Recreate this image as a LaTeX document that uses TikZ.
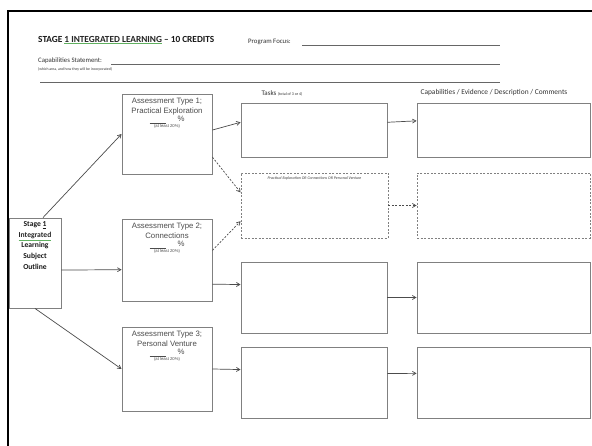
\documentclass[tikz,border=0pt]{standalone}
\usepackage{fontspec}
\setmainfont{Carlito}
\newfontfamily\arialfont{Liberation Sans}
\usetikzlibrary{arrows.meta}

\definecolor{ulgreen}{RGB}{96,176,96}
\newcommand{\gul}[1]{{\color{ulgreen}\underline{\color{black!85}#1}}}

\begin{document}
\begin{tikzpicture}[
    x=1pt, y=-1pt,
    >={Straight Barb[length=3.5pt, width=4pt]},
    box/.style={draw=black!50, line width=0.9pt, inner sep=0pt},
    dbox/.style={box, dash pattern=on 2pt off 1.5pt},
    assess/.style={box, minimum width=90pt},
    taskbox/.style={box, minimum width=146pt},
    commbox/.style={box, minimum width=173pt},
    head/.style={font=\fontsize{7}{8}\selectfont, text=black!80, inner sep=0pt},
    btext/.style={font=\arialfont\fontsize{7.8}{10}\selectfont, text=black!70, align=center, inner sep=0pt},
    rulel/.style={draw=black!60, line width=0.6pt},
    link/.style={->, draw=black!70, line width=0.7pt},
    dlink/.style={link, dash pattern=on 2pt off 1.5pt},
]
  \useasboundingbox (0,0) rectangle (592,446);
  \fill[white] (0,0) rectangle (592,446);

  % frame of the page
  \draw[line width=2.2pt] (8,446) -- (8,11) -- (592,11);

  % header
  \node[head, anchor=west, font=\bfseries\fontsize{9.3}{10}\selectfont, text=black!90] (title) at (38,40)
    {STAGE \gul{1 INTEGRATED LEARNING} -- 10 CREDITS};
  \node[head, anchor=west, font=\fontsize{6.8}{8}\selectfont] (focus) at (248,42) {Program Focus:};
  \draw[rulel] (302,45) -- (500,45);
  \node[head, anchor=west, font=\fontsize{6.8}{8}\selectfont] (capstmt) at (38,61) {Capabilities Statement:};
  \draw[rulel] (111,64) -- (500,64);
  \node[head, anchor=west, font=\fontsize{3.8}{4}\selectfont] (capnote) at (38,69)
    {(which area, and how they will be incorporated)};
  \draw[rulel] (40,82) -- (500,82);

  \node[head] (taskhead) at (282,93)
    {Tasks {\fontsize{4}{4}\selectfont (total of 3 or 4)}};
  \node[head, font=\fontsize{7.4}{8}\selectfont] (commhead) at (494,93)
    {Capabilities / Evidence / Description / Comments};

  % subject outline
  \node[box, minimum width=52pt, minimum height=90pt] (stage) at (35,263) {};
  \node[btext, font=\bfseries\fontsize{7.6}{10.6}\selectfont, text=black!90, anchor=north] (stagetxt)
    at ([yshift=-4pt]stage.north)
    {Stage \underline{1}\\\gul{Integrated}\\Learning\\Subject\\Outline};

  % assessment types
  \node[assess, minimum height=80pt] (a1) at (167,134) {};
  \node[assess, minimum height=82pt] (a2) at (167,260) {};
  \node[assess, minimum height=84pt] (a3) at (167,369) {};

  \node[btext, anchor=north] (a1txt) at ([yshift=-4pt]a1.north)
    {Assessment Type 1;\\Practical Exploration\\[-1.5pt]\underline{\hspace{16pt}}\hspace{12pt}\%\\[-4.5pt]
     {\fontsize{4.2}{4}\selectfont(at least 20\%)}};
  \node[btext, anchor=north] (a2txt) at ([yshift=-4pt]a2.north)
    {Assessment Type 2;\\Connections\\[-1.5pt]\underline{\hspace{16pt}}\hspace{12pt}\%\\[-4.5pt]
     {\fontsize{4.2}{4}\selectfont(at least 20\%)}};
  \node[btext, anchor=north] (a3txt) at ([yshift=-4pt]a3.north)
    {Assessment Type 3;\\Personal Venture\\[-1.5pt]\underline{\hspace{16pt}}\hspace{12pt}\%\\[-4.5pt]
     {\fontsize{4.2}{4}\selectfont(at least 20\%)}};

  % tasks and comments
  \node[taskbox, minimum height=54pt] (t1) at (314,130) {};
  \node[commbox, minimum height=54pt] (c1) at (503.5,130) {};
  \node[dbox, minimum width=147pt, minimum height=65pt] (td) at (314.5,205.5) {};
  \node[dbox, minimum width=173pt, minimum height=65pt] (cd) at (503.5,205.5) {};
  \node[taskbox, minimum height=71pt] (t2) at (314,297.5) {};
  \node[commbox, minimum height=71pt] (c2) at (503.5,297.5) {};
  \node[taskbox, minimum height=71pt] (t3) at (314,382.5) {};
  \node[commbox, minimum height=71pt] (c3) at (503.5,382.5) {};

  \node[head, anchor=north, font=\itshape\fontsize{4}{4}\selectfont, text=black!75] (tdtxt)
    at ([yshift=-4pt]td.north)
    {Practical Exploration OR Connections OR Personal Venture};

  % connectors
  \foreach \i/\j in {stage.80/a1.west, stage.-15/a2.192, stage.south/a3.west,
                     a1.5/t1.174, a2.-28/t2.170, a3.east/t3.170,
                     t1.6/c1.174, t2.east/c2.west, t3.7/c3.174}
    \draw[link] (\i) -- (\j);

  \foreach \i/\j in {a1.-27/td.170, a2.12/td.192, td.east/cd.west}
    \draw[dlink] (\i) -- (\j);
\end{tikzpicture}
\end{document}
